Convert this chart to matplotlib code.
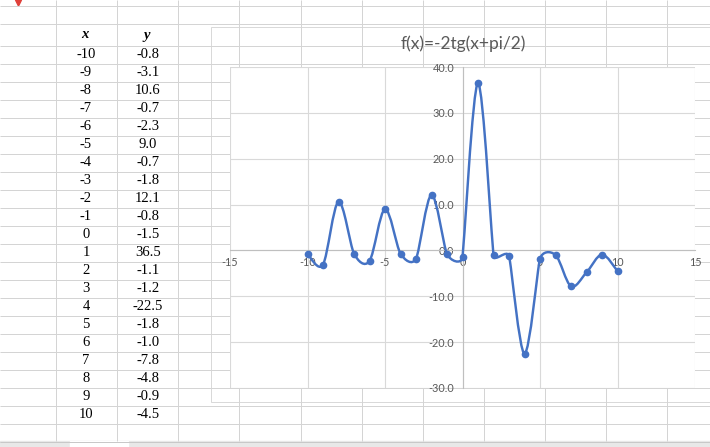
import matplotlib
matplotlib.use("Agg")
import matplotlib.pyplot as plt
import numpy as np
from matplotlib.path import Path
from matplotlib.patches import PathPatch, Rectangle, Polygon

x_vals = [-10, -9, -8, -7, -6, -5, -4, -3, -2, -1, 0, 1, 2, 3, 4, 5, 6, 7, 8, 9, 10]
y_vals = [-0.8, -3.1, 10.6, -0.7, -2.3, 9.0, -0.7, -1.8, 12.1, -0.8, -1.5,
          36.5, -1.1, -1.2, -22.5, -1.8, -1.0, -7.8, -4.8, -0.9, -4.5]
titulo = "f(x)=-2tg(x+pi/2)"
x_ticks = [-15, -10, -5, 0, 5, 10, 15]
y_ticks = [-30, -20, -10, 0, 10, 20, 30, 40]

W, H = 710, 447
fig = plt.figure(figsize=(W / 100, H / 100), dpi=100)

# fundo da planilha, em pixels
bg = fig.add_axes([0, 0, 1, 1])
bg.set_xlim(0, W)
bg.set_ylim(H, 0)
bg.axis("off")

grade = "#d4d4d4"
col_lines = [55, 116, 177, 238, 300, 361, 422, 483, 544, 605, 666]
row_lines = [5, 23] + [45 + 18 * k for k in range(23)]
for c in col_lines:
    bg.vlines(c + 0.5, 0, 441, color=grade, lw=0.72)
for r in row_lines:
    bg.hlines(r + 0.5, 0, W, color=grade, lw=0.72)

# triangulo vermelho (comentario)
bg.add_patch(Polygon([[15.5, 0], [21.5, 0], [18.5, 6]], closed=True, color="#e0403a"))

# barra das abas
bg.add_patch(Rectangle((0, 441), W, 6, color="#e8e8e8"))
bg.add_patch(Rectangle((70, 441), 58, 6, color="white"))
bg.hlines(441.5, 0, W, color="#c8c8c8", lw=0.72)

# tabela x / y
fonte_tab = dict(fontfamily="Liberation Serif", fontsize=10.5, ha="center", va="center")
bg.text(85, 35, "x", fontweight="bold", fontstyle="italic", **fonte_tab)
bg.text(147, 35, "y", fontweight="bold", fontstyle="italic", **fonte_tab)
for i, (xv, yv) in enumerate(zip(x_vals, y_vals)):
    yc = 54.5 + 18 * i
    bg.text(86, yc, str(xv), **fonte_tab)
    bg.text(148, yc, f"{yv:.1f}", **fonte_tab)

# area do grafico
bg.add_patch(Rectangle((210.5, 26.5), 520, 375, facecolor="white", edgecolor="#d9d9d9", lw=0.72))
bg.text(463, 44, titulo, fontfamily="Lato", fontsize=12.5, color="#595959",
        ha="center", va="center")

# eixos do grafico
ax = fig.add_axes([230 / W, (H - 388) / H, 465 / W, 321 / H])
ax.set_xlim(-15, 15)
ax.set_ylim(-30, 40)
ax.set_xticks(x_ticks)
ax.set_yticks(y_ticks)
ax.set_xticklabels([str(t) for t in x_ticks])
ax.set_yticklabels([f"{t:.1f}" for t in y_ticks])
ax.grid(True, color="#d9d9d9", lw=0.8)
ax.set_axisbelow(True)
for s in ["top", "right"]:
    ax.spines[s].set_visible(False)
ax.spines["left"].set_position(("data", 0))
ax.spines["bottom"].set_position(("data", 0))
ax.spines["left"].set_color("#bfbfbf")
ax.spines["bottom"].set_color("#bfbfbf")
ax.tick_params(length=0, labelsize=7.8, labelcolor="#595959")
ax.tick_params(axis="x", pad=4.5)
ax.tick_params(axis="y", pad=6)
for lab in ax.get_xticklabels() + ax.get_yticklabels():
    lab.set_fontfamily("Lato")

# linha suavizada (estilo Excel): bezier com tangentes catmull-rom,
# limitadas a metade do segmento vizinho mais curto (em pixels)
tela = ax.transData.transform(np.column_stack([x_vals, y_vals]))
n = len(tela)
tang = []
for i in range(n):
    a = tela[max(i - 1, 0)]
    b = tela[min(i + 1, n - 1)]
    t = (b - a) / 6
    segs = []
    if i > 0:
        segs.append(np.hypot(*(tela[i] - tela[i - 1])))
    if i < n - 1:
        segs.append(np.hypot(*(tela[i + 1] - tela[i])))
    lim = min(segs) / 2
    L = np.hypot(*t)
    if L > lim:
        t = t * lim / L
    tang.append(t)
verts_px = [tela[0]]
codes = [Path.MOVETO]
for i in range(n - 1):
    verts_px += [tela[i] + tang[i], tela[i + 1] - tang[i + 1], tela[i + 1]]
    codes += [Path.CURVE4] * 3
verts = ax.transData.inverted().transform(np.array(verts_px))
cor = "#4472C4"
ax.add_patch(PathPatch(Path(verts, codes), fill=False, edgecolor=cor, lw=1.75,
                       capstyle="round", joinstyle="round", zorder=3))
ax.plot(x_vals, y_vals, "o", color=cor, ms=4.5, zorder=4)

fig.savefig("out.png", dpi=100)
